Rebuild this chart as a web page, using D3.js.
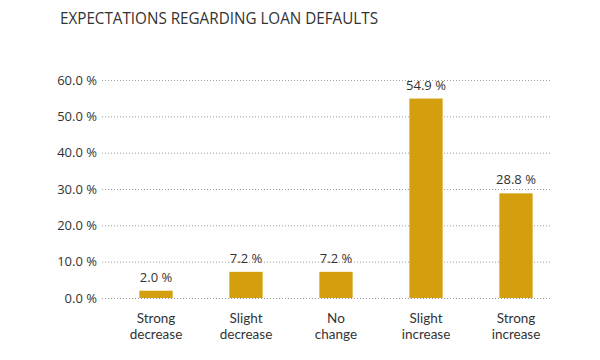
<!DOCTYPE html>
<html><head><meta charset="utf-8">
<script src="https://cdn.jsdelivr.net/npm/d3@7"></script>
<style>body{margin:0;background:#fff;} svg{display:block;font-family:"Open Sans","Noto Sans",sans-serif;}</style>
</head><body>
<svg id="chart" width="600" height="360"></svg>
<script>
const title = "EXPECTATIONS REGARDING LOAN DEFAULTS";
const categories = [["Strong","decrease"],["Slight","decrease"],["No","change"],["Slight","increase"],["Strong","increase"]];
const values = [2.0, 7.2, 7.2, 54.9, 28.8];
const yTicks = [0, 10, 20, 30, 40, 50, 60];

const svg = d3.select("#chart");
const textColor = "#333";
const barColor = "#D49F0F";

svg.append("text").attr("x", 60).attr("y", 24).attr("font-size", 16.5).attr("fill", textColor)
  .attr("textLength", 318).attr("lengthAdjust", "spacingAndGlyphs")
  .text(title);

const y = d3.scaleLinear().domain([0, 60]).range([298, 80]);
const x = d3.scaleBand().domain(d3.range(values.length)).range([111, 561]).paddingInner(0.63).paddingOuter(0.315);

// gridlines
svg.append("g").selectAll("line").data(yTicks).join("line")
  .attr("x1", 102).attr("x2", 552)
  .attr("y1", d => y(d) + 0.5).attr("y2", d => y(d) + 0.5)
  .attr("stroke", "#a0a0a0").attr("stroke-width", 1).attr("stroke-dasharray", "1,2");

// y labels
svg.append("g").selectAll("text").data(yTicks).join("text")
  .attr("x", 97).attr("y", d => y(d)).attr("dy", "0.35em")
  .attr("text-anchor", "end").attr("font-size", 13).attr("fill", textColor)
  .text(d => d3.format(".1f")(d) + " %");

// bars
const fmt = d3.format(".1f");
svg.append("g").selectAll("rect").data(values).join("rect")
  .attr("x", (d, i) => x(i)).attr("width", x.bandwidth())
  .attr("y", d => y(d)).attr("height", d => y(0) - y(d))
  .attr("fill", barColor);

// value labels
svg.append("g").selectAll("text").data(values).join("text")
  .attr("x", (d, i) => x(i) + x.bandwidth() / 2).attr("y", d => y(d) - 9)
  .attr("text-anchor", "middle").attr("font-size", 13).attr("fill", textColor)
  .text(d => fmt(d) + " %");

// category labels (each line its own text element)
const lines = categories.flatMap((d, i) => d.map((s, j) => ({s, i, j})));
svg.append("g").selectAll("text").data(lines).join("text")
  .attr("text-anchor", "middle").attr("font-size", 13.5).attr("fill", textColor)
  .attr("font-family", "Lato, 'Open Sans', sans-serif")
  .attr("x", d => x(d.i) + x.bandwidth() / 2)
  .attr("y", d => 323 + d.j * 16.3)
  .text(d => d.s);
</script>
</body></html>
